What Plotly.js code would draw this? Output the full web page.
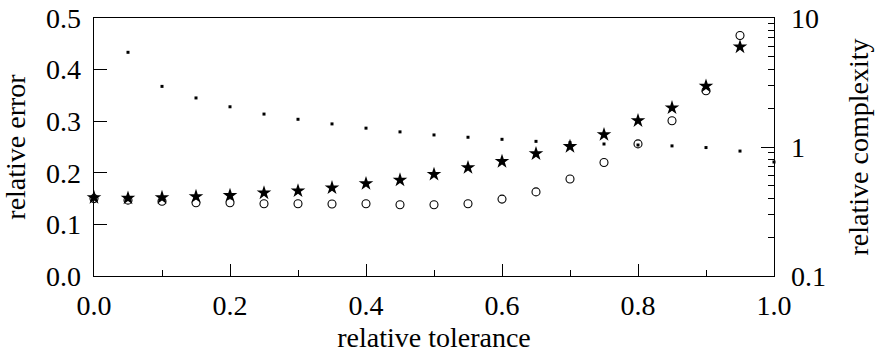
<!DOCTYPE html>
<html>
<head>
<meta charset="utf-8">
<script src="https://cdn.plot.ly/plotly-3.0.1.min.js"></script>
<style>html,body{margin:0;padding:0;background:#fff}#chart{width:875px;height:354px}</style>
</head>
<body>
<div id="chart"></div>
<script>
const tolerance = [0.0,0.05,0.1,0.15,0.2,0.25,0.3,0.35,0.4,0.45,0.5,0.55,0.6,0.65,0.7,0.75,0.8,0.85,0.9,0.95];
const errorStar = [0.152,0.151,0.152,0.154,0.156,0.161,0.165,0.171,0.179,0.186,0.197,0.210,0.222,0.237,0.251,0.274,0.301,0.326,0.368,0.444];
const errorCircle = [0.150,0.147,0.145,0.142,0.142,0.140,0.140,0.1395,0.140,0.138,0.138,0.140,0.149,0.163,0.188,0.220,0.256,0.301,0.359,0.466];
const toleranceDots = [0.05,0.1,0.15,0.2,0.25,0.3,0.35,0.4,0.45,0.5,0.55,0.6,0.65,0.7,0.75,0.8,0.85,0.9,0.95,1.0];
const complexity = [5.42,2.95,2.40,2.05,1.80,1.64,1.51,1.40,1.31,1.24,1.19,1.147,1.106,1.08,1.055,1.036,1.02,0.99,0.93,0.765];

const font = 'Liberation Serif';
const tf = {family: font, size: 28, color: '#000'};
const ttf = {family: font, size: 28, color: '#000'};
const traces = [
  {x: tolerance, y: errorStar, name: 'error A', type: 'scatter', mode: 'markers',
   marker: {symbol: 'star', size: 11, color: '#000', line: {width: 0}}, cliponaxis: false},
  {x: tolerance, y: errorCircle, name: 'error B', type: 'scatter', mode: 'markers',
   marker: {symbol: 'circle-open', size: 8, color: '#000', line: {width: 1.1, color: '#000'}}, cliponaxis: false},
  {x: toleranceDots, y: complexity, name: 'complexity', type: 'scatter', mode: 'markers', yaxis: 'y2',
   marker: {symbol: 'square', size: 3, color: '#000', line: {width: 0}}, cliponaxis: false}
];
const layout = {
  width: 875, height: 354,
  margin: {l: 94, r: 101, t: 18, b: 78},
  paper_bgcolor: '#fff', plot_bgcolor: '#fff',
  showlegend: false,
  font: {family: font, size: 28, color: '#000'},
  xaxis: {range: [0, 1], dtick: 0.2, tickformat: '.1f', ticks: 'inside', ticklen: 12, tickcolor: '#000',
    tickfont: tf, ticklabelstandoff: 4,
    showgrid: false, zeroline: false, showline: true, linecolor: '#000', linewidth: 1.3, mirror: true,
    minor: {dtick: 0.1, ticks: 'inside', ticklen: 6, tickcolor: '#000', showgrid: false},
    title: {text: 'relative tolerance', font: ttf, standoff: 7}, automargin: false},
  yaxis: {range: [0, 0.5], dtick: 0.1, tickformat: '.1f', ticks: 'inside', ticklen: 13, tickcolor: '#000',
    tickfont: tf, ticklabelstandoff: 6,
    showgrid: false, zeroline: false, showline: true, linecolor: '#000', linewidth: 1.3, mirror: true,
    title: {text: 'relative error', font: ttf, standoff: 15}, automargin: false},
  yaxis2: {type: 'log', range: [-1, 1], dtick: 1, overlaying: 'y', side: 'right',
    ticks: 'inside', ticklen: 13, tickcolor: '#000', showgrid: false, zeroline: false,
    tickfont: tf,
    showline: true, linecolor: '#000', linewidth: 1.3, ticklabelstandoff: 10,
    minor: {dtick: 'D1', ticks: 'inside', ticklen: 6, tickcolor: '#000', showgrid: false},
    title: {text: 'relative complexity', font: ttf, standoff: 23}, automargin: false}
};
Plotly.newPlot('chart', traces, layout, {displayModeBar: false, staticPlot: true});
</script>
</body>
</html>
